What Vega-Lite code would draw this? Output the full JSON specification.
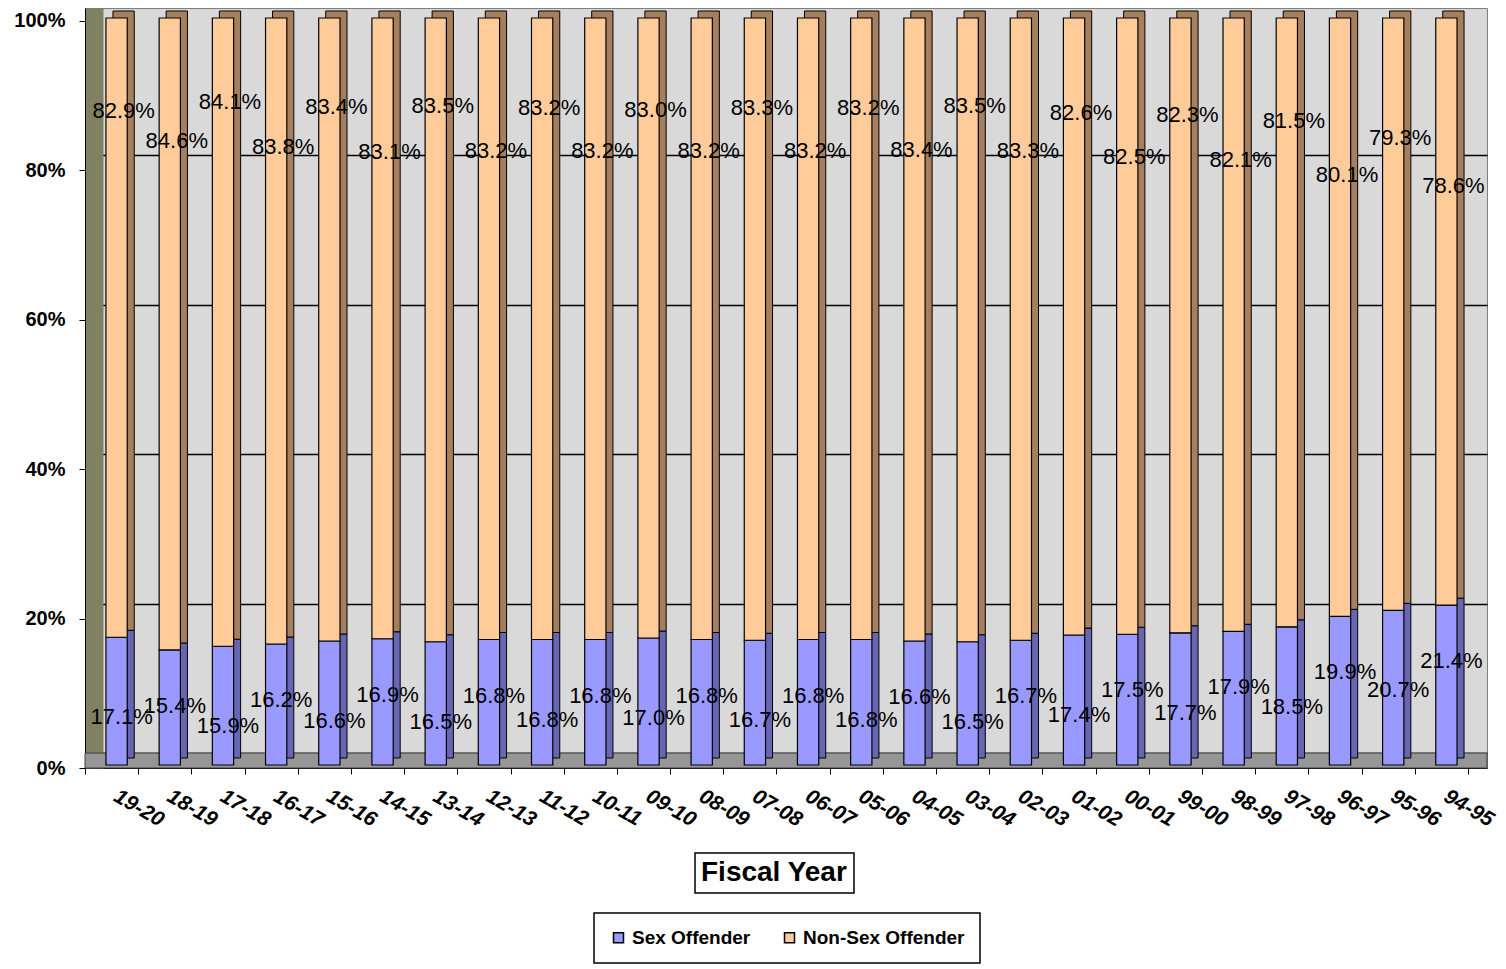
{
  "$schema": "https://vega.github.io/schema/vega-lite/v6.json",
  "width": 1402,
  "height": 760,
  "autosize": {"type": "none"},
  "padding": {"left": 85, "top": 8, "right": 19, "bottom": 201},
  "background": "#ffffff",
  "config": {
    "view": {"fill": "#d9d9d9", "stroke": "#7f7f7f", "strokeWidth": 1},
    "font": "Liberation Sans",
    "legend": {"strokeWidth": 1.5}
  },
  "data": {
    "values": [
      {"year": "19-20", "series": "Sex Offender", "value": 0.171},
      {"year": "19-20", "series": "Non-Sex Offender", "value": 0.829},
      {"year": "18-19", "series": "Sex Offender", "value": 0.154},
      {"year": "18-19", "series": "Non-Sex Offender", "value": 0.846},
      {"year": "17-18", "series": "Sex Offender", "value": 0.159},
      {"year": "17-18", "series": "Non-Sex Offender", "value": 0.841},
      {"year": "16-17", "series": "Sex Offender", "value": 0.162},
      {"year": "16-17", "series": "Non-Sex Offender", "value": 0.838},
      {"year": "15-16", "series": "Sex Offender", "value": 0.166},
      {"year": "15-16", "series": "Non-Sex Offender", "value": 0.834},
      {"year": "14-15", "series": "Sex Offender", "value": 0.169},
      {"year": "14-15", "series": "Non-Sex Offender", "value": 0.831},
      {"year": "13-14", "series": "Sex Offender", "value": 0.165},
      {"year": "13-14", "series": "Non-Sex Offender", "value": 0.835},
      {"year": "12-13", "series": "Sex Offender", "value": 0.168},
      {"year": "12-13", "series": "Non-Sex Offender", "value": 0.832},
      {"year": "11-12", "series": "Sex Offender", "value": 0.168},
      {"year": "11-12", "series": "Non-Sex Offender", "value": 0.832},
      {"year": "10-11", "series": "Sex Offender", "value": 0.168},
      {"year": "10-11", "series": "Non-Sex Offender", "value": 0.832},
      {"year": "09-10", "series": "Sex Offender", "value": 0.170},
      {"year": "09-10", "series": "Non-Sex Offender", "value": 0.830},
      {"year": "08-09", "series": "Sex Offender", "value": 0.168},
      {"year": "08-09", "series": "Non-Sex Offender", "value": 0.832},
      {"year": "07-08", "series": "Sex Offender", "value": 0.167},
      {"year": "07-08", "series": "Non-Sex Offender", "value": 0.833},
      {"year": "06-07", "series": "Sex Offender", "value": 0.168},
      {"year": "06-07", "series": "Non-Sex Offender", "value": 0.832},
      {"year": "05-06", "series": "Sex Offender", "value": 0.168},
      {"year": "05-06", "series": "Non-Sex Offender", "value": 0.832},
      {"year": "04-05", "series": "Sex Offender", "value": 0.166},
      {"year": "04-05", "series": "Non-Sex Offender", "value": 0.834},
      {"year": "03-04", "series": "Sex Offender", "value": 0.165},
      {"year": "03-04", "series": "Non-Sex Offender", "value": 0.835},
      {"year": "02-03", "series": "Sex Offender", "value": 0.167},
      {"year": "02-03", "series": "Non-Sex Offender", "value": 0.833},
      {"year": "01-02", "series": "Sex Offender", "value": 0.174},
      {"year": "01-02", "series": "Non-Sex Offender", "value": 0.826},
      {"year": "00-01", "series": "Sex Offender", "value": 0.175},
      {"year": "00-01", "series": "Non-Sex Offender", "value": 0.825},
      {"year": "99-00", "series": "Sex Offender", "value": 0.177},
      {"year": "99-00", "series": "Non-Sex Offender", "value": 0.823},
      {"year": "98-99", "series": "Sex Offender", "value": 0.179},
      {"year": "98-99", "series": "Non-Sex Offender", "value": 0.821},
      {"year": "97-98", "series": "Sex Offender", "value": 0.185},
      {"year": "97-98", "series": "Non-Sex Offender", "value": 0.815},
      {"year": "96-97", "series": "Sex Offender", "value": 0.199},
      {"year": "96-97", "series": "Non-Sex Offender", "value": 0.801},
      {"year": "95-96", "series": "Sex Offender", "value": 0.207},
      {"year": "95-96", "series": "Non-Sex Offender", "value": 0.793},
      {"year": "94-95", "series": "Sex Offender", "value": 0.214},
      {"year": "94-95", "series": "Non-Sex Offender", "value": 0.786}
    ]
  },
  "layer": [
    {
      "transform": [{"aggregate": [{"op": "count", "as": "n"}]}],
      "mark": {"type": "rect", "fill": "#969696", "stroke": "#404040", "strokeWidth": 1},
      "encoding": {
        "y": {
          "datum": -0.02,
          "type": "quantitative",
          "scale": {"domain": [-0.02, 0.9974], "nice": false, "zero": false},
          "axis": {
            "orient": "left",
            "offset": -9,
            "values": [0, 0.2, 0.4, 0.6, 0.8],
            "grid": true,
            "gridColor": "#000000",
            "gridWidth": 1.5,
            "labels": false,
            "ticks": false,
            "domain": true,
            "domainColor": "#808062",
            "domainWidth": 18,
            "title": null
          }
        },
        "y2": {"datum": 0}
      }
    },
    {
      "layer": [
        {
          "mark": {"type": "bar", "width": {"band": 0.4}, "xOffset": 12, "yOffset": -10, "stroke": "#000000", "strokeWidth": 1},
          "encoding": {
            "x": {
              "field": "year", "type": "nominal", "sort": null,
              "axis": {"title": null, "tickBand": "extent", "labelAngle": 30, "labelAlign": "left", "labelBaseline": "top", "labelFont": "Liberation Sans", "labelFontSize": 21, "labelFontWeight": "bold", "labelFontStyle": "italic", "labelColor": "#000000", "labelPadding": 11, "labelOffset": 9, "labelOverlap": false, "labelBound": false, "tickSize": 6, "tickColor": "#000000", "tickWidth": 1, "domainColor": "#000000", "domainWidth": 1.2, "grid": false}
            },
            "y": {
              "field": "value", "type": "quantitative", "stack": "zero",
              "axis": {"orient": "left", "title": null, "values": [0, 0.2, 0.4, 0.6, 0.8, 1], "format": ".0%", "labelFont": "Liberation Sans", "labelFontSize": 20, "labelFontWeight": "bold", "labelColor": "#000000", "labelPadding": 14, "tickSize": 6, "tickColor": "#000000", "domainColor": "#000000", "grid": false}
            },
            "fill": {"condition": {"test": "datum.series == 'Sex Offender'", "value": "#6666b3"}, "value": "#a6805e"},
            "detail": {"field": "series", "type": "nominal"},
            "order": {"field": "series", "sort": "descending"}
          }
        },
        {
          "mark": {"type": "bar", "width": {"band": 0.4}, "xOffset": 5, "yOffset": -3, "stroke": "#000000", "strokeWidth": 1.2},
          "encoding": {
            "x": {
              "field": "year",
              "type": "nominal",
              "sort": null,
              "scale": {
                "domain": ["19-20", "18-19", "17-18", "16-17", "15-16", "14-15", "13-14", "12-13", "11-12", "10-11", "09-10", "08-09", "07-08", "06-07", "05-06", "04-05", "03-04", "02-03", "01-02", "00-01", "99-00", "98-99", "97-98", "96-97", "95-96", "94-95"],
                "paddingInner": 0,
                "paddingOuter": 0.1786,
                "align": 0
              },
              "axis": {"title": null, "tickBand": "extent", "labelAngle": 30, "labelAlign": "left", "labelBaseline": "top", "labelFont": "Liberation Sans", "labelFontSize": 21, "labelFontWeight": "bold", "labelFontStyle": "italic", "labelColor": "#000000", "labelPadding": 11, "labelOffset": 9, "labelOverlap": false, "labelBound": false, "tickSize": 6, "tickColor": "#000000", "tickWidth": 1, "domainColor": "#000000", "domainWidth": 1.2, "grid": false}
            },
            "y": {
              "field": "value",
              "type": "quantitative",
              "stack": "zero",
              "scale": {"domain": [0, 1.0174], "nice": false},
              "axis": {"orient": "left", "title": null, "values": [0, 0.2, 0.4, 0.6, 0.8, 1], "format": ".0%", "labelFont": "Liberation Sans", "labelFontSize": 20, "labelFontWeight": "bold", "labelColor": "#000000", "labelPadding": 14, "tickSize": 6, "tickColor": "#000000", "domainColor": "#000000", "grid": false}
            },
            "color": {
              "field": "series",
              "type": "nominal",
              "scale": {"domain": ["Sex Offender", "Non-Sex Offender"], "range": ["#9999ff", "#ffcc99"]},
              "legend": {
                "orient": "none",
                "legendX": 509,
                "legendY": 905,
                "direction": "horizontal",
                "title": null,
                "labelFont": "Liberation Sans",
                "labelFontSize": 19,
                "labelFontWeight": "bold",
                "labelColor": "#000000",
                "labelLimit": 400,
                "symbolType": "square",
                "symbolSize": 100,
                "symbolStrokeColor": "#000000",
                "symbolStrokeWidth": 1.5,
                "columnPadding": 29,
                "labelOffset": 4,
                "padding": 15,
                "strokeColor": "#000000",
                "fillColor": "#ffffff"
              }
            },
            "order": {"field": "series", "sort": "descending"},
            "strokeDash": {
              "datum": "Fiscal Year",
              "scale": {"range": [[1, 0]]},
              "legend": {
                "orient": "none",
                "legendX": 610,
                "legendY": 845,
                "title": null,
                "labelFont": "Liberation Sans",
                "labelFontSize": 28,
                "labelFontWeight": "bold",
                "labelColor": "#000000",
                "labelLimit": 400,
                "symbolType": "square",
                "symbolSize": 0,
                "symbolStrokeWidth": 0,
                "symbolOpacity": 0,
                "labelOffset": -28,
                "padding": 6,
                "strokeColor": "#000000",
                "fillColor": "#ffffff"
              }
            }
          }
        },
        {
          "transform": [
            {"filter": "datum.series == 'Sex Offender'"},
            {"window": [{"op": "row_number", "as": "idx"}]},
            {"filter": "datum.idx % 2 == 1"}
          ],
          "mark": {"type": "text", "dx": 10, "dy": 77, "fontSize": 22, "font": "Liberation Sans", "color": "#000000"},
          "encoding": {
            "x": {
              "field": "year", "type": "nominal", "sort": null,
              "axis": {"title": null, "tickBand": "extent", "labelAngle": 30, "labelAlign": "left", "labelBaseline": "top", "labelFont": "Liberation Sans", "labelFontSize": 21, "labelFontWeight": "bold", "labelFontStyle": "italic", "labelColor": "#000000", "labelPadding": 11, "labelOffset": 9, "labelOverlap": false, "labelBound": false, "tickSize": 6, "tickColor": "#000000", "tickWidth": 1, "domainColor": "#000000", "domainWidth": 1.2, "grid": false}
            },
            "y": {
              "field": "value", "type": "quantitative", "stack": null,
              "axis": {"orient": "left", "title": null, "values": [0, 0.2, 0.4, 0.6, 0.8, 1], "format": ".0%", "labelFont": "Liberation Sans", "labelFontSize": 20, "labelFontWeight": "bold", "labelColor": "#000000", "labelPadding": 14, "tickSize": 6, "tickColor": "#000000", "domainColor": "#000000", "grid": false}
            },
            "text": {"field": "value", "type": "quantitative", "format": ".1%"}
          }
        },
        {
          "transform": [
            {"filter": "datum.series == 'Sex Offender'"},
            {"window": [{"op": "row_number", "as": "idx"}]},
            {"filter": "datum.idx % 2 == 0"}
          ],
          "mark": {"type": "text", "dx": 10, "dy": 53, "fontSize": 22, "font": "Liberation Sans", "color": "#000000"},
          "encoding": {
            "x": {
              "field": "year", "type": "nominal", "sort": null,
              "axis": {"title": null, "tickBand": "extent", "labelAngle": 30, "labelAlign": "left", "labelBaseline": "top", "labelFont": "Liberation Sans", "labelFontSize": 21, "labelFontWeight": "bold", "labelFontStyle": "italic", "labelColor": "#000000", "labelPadding": 11, "labelOffset": 9, "labelOverlap": false, "labelBound": false, "tickSize": 6, "tickColor": "#000000", "tickWidth": 1, "domainColor": "#000000", "domainWidth": 1.2, "grid": false}
            },
            "y": {
              "field": "value", "type": "quantitative", "stack": null,
              "axis": {"orient": "left", "title": null, "values": [0, 0.2, 0.4, 0.6, 0.8, 1], "format": ".0%", "labelFont": "Liberation Sans", "labelFontSize": 20, "labelFontWeight": "bold", "labelColor": "#000000", "labelPadding": 14, "tickSize": 6, "tickColor": "#000000", "domainColor": "#000000", "grid": false}
            },
            "text": {"field": "value", "type": "quantitative", "format": ".1%"}
          }
        },
        {
          "transform": [
            {"filter": "datum.series == 'Non-Sex Offender'"},
            {"window": [{"op": "row_number", "as": "idx"}]},
            {"filter": "datum.idx % 2 == 1"}
          ],
          "mark": {"type": "text", "dx": 12, "dy": -38, "fontSize": 22, "font": "Liberation Sans", "color": "#000000"},
          "encoding": {
            "x": {
              "field": "year", "type": "nominal", "sort": null,
              "axis": {"title": null, "tickBand": "extent", "labelAngle": 30, "labelAlign": "left", "labelBaseline": "top", "labelFont": "Liberation Sans", "labelFontSize": 21, "labelFontWeight": "bold", "labelFontStyle": "italic", "labelColor": "#000000", "labelPadding": 11, "labelOffset": 9, "labelOverlap": false, "labelBound": false, "tickSize": 6, "tickColor": "#000000", "tickWidth": 1, "domainColor": "#000000", "domainWidth": 1.2, "grid": false}
            },
            "y": {
              "field": "value", "type": "quantitative", "stack": null,
              "axis": {"orient": "left", "title": null, "values": [0, 0.2, 0.4, 0.6, 0.8, 1], "format": ".0%", "labelFont": "Liberation Sans", "labelFontSize": 20, "labelFontWeight": "bold", "labelColor": "#000000", "labelPadding": 14, "tickSize": 6, "tickColor": "#000000", "domainColor": "#000000", "grid": false}
            },
            "text": {"field": "value", "type": "quantitative", "format": ".1%"}
          }
        },
        {
          "transform": [
            {"filter": "datum.series == 'Non-Sex Offender'"},
            {"window": [{"op": "row_number", "as": "idx"}]},
            {"filter": "datum.idx % 2 == 0"}
          ],
          "mark": {"type": "text", "dx": 12, "dy": 5, "fontSize": 22, "font": "Liberation Sans", "color": "#000000"},
          "encoding": {
            "x": {
              "field": "year", "type": "nominal", "sort": null,
              "axis": {"title": null, "tickBand": "extent", "labelAngle": 30, "labelAlign": "left", "labelBaseline": "top", "labelFont": "Liberation Sans", "labelFontSize": 21, "labelFontWeight": "bold", "labelFontStyle": "italic", "labelColor": "#000000", "labelPadding": 11, "labelOffset": 9, "labelOverlap": false, "labelBound": false, "tickSize": 6, "tickColor": "#000000", "tickWidth": 1, "domainColor": "#000000", "domainWidth": 1.2, "grid": false}
            },
            "y": {
              "field": "value", "type": "quantitative", "stack": null,
              "axis": {"orient": "left", "title": null, "values": [0, 0.2, 0.4, 0.6, 0.8, 1], "format": ".0%", "labelFont": "Liberation Sans", "labelFontSize": 20, "labelFontWeight": "bold", "labelColor": "#000000", "labelPadding": 14, "tickSize": 6, "tickColor": "#000000", "domainColor": "#000000", "grid": false}
            },
            "text": {"field": "value", "type": "quantitative", "format": ".1%"}
          }
        }
      ]
    }
  ],
  "resolve": {"scale": {"y": "independent"}}
}
